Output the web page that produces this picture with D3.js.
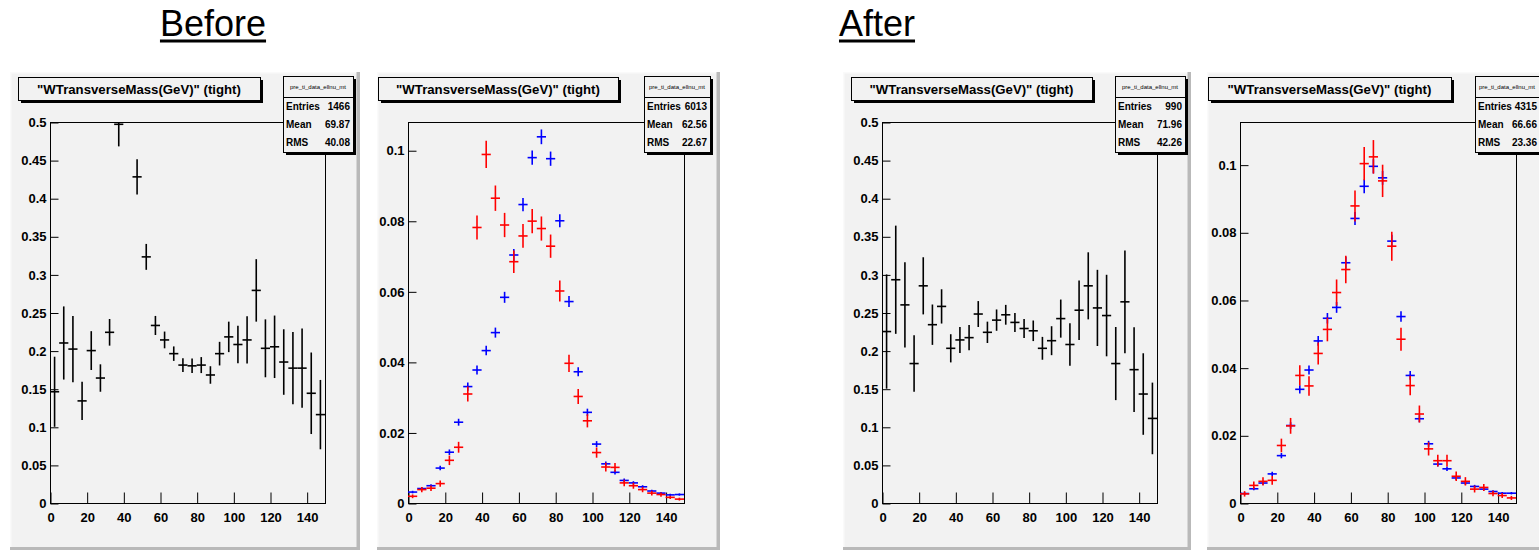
<!DOCTYPE html>
<html>
<head>
<meta charset="utf-8">
<script src="https://cdn.jsdelivr.net/npm/d3@7"></script>
<style>
  html, body { margin: 0; padding: 0; background: #ffffff; }
  svg { display: block; font-family: "Liberation Sans", Arial, sans-serif; }
  .tick text { font-weight: bold; font-size: 13px; font-family: "Liberation Sans", Arial, sans-serif; fill: #000; }
</style>
</head>
<body>
<svg id="chart" width="1539" height="553"></svg>
<script>
// Transverse-mass distributions, 30 bins of 5 GeV from 0 to 150 GeV
const binCenters = [2.5, 7.5, 12.5, 17.5, 22.5, 27.5, 32.5, 37.5, 42.5, 47.5,
  52.5, 57.5, 62.5, 67.5, 72.5, 77.5, 82.5, 87.5, 92.5, 97.5,
  102.5, 107.5, 112.5, 117.5, 122.5, 127.5, 132.5, 137.5, 142.5, 147.5];
const binWidth = 5;

// "Before" — ratio histogram (black)
const beforeRatio = [0.146, 0.210, 0.202, 0.134, 0.200, 0.164, 0.224, 0.497, 0.560, 0.428,
  0.323, 0.233, 0.214, 0.196, 0.181, 0.180, 0.181, 0.168, 0.196, 0.218,
  0.208, 0.214, 0.279, 0.203, 0.205, 0.185, 0.177, 0.177, 0.144, 0.116];
const beforeRatioErr = [0.046, 0.048, 0.0435, 0.025, 0.0255, 0.018, 0.0175, 0.029, 0.030, 0.023,
  0.017, 0.0125, 0.011, 0.0095, 0.009, 0.0095, 0.0105, 0.0115, 0.0155, 0.020,
  0.0245, 0.031, 0.041, 0.038, 0.041, 0.043, 0.0475, 0.052, 0.0535, 0.0455];

// "Before" — normalised shapes (blue and red)
const beforeBlue = [0.0031, 0.0041, 0.0049, 0.0099, 0.0144, 0.0229, 0.0330, 0.0377, 0.0432, 0.0483,
  0.0583, 0.0703, 0.0846, 0.0979, 0.1038, 0.0976, 0.0800, 0.0571, 0.0372, 0.0257,
  0.0167, 0.0111, 0.0087, 0.0064, 0.0057, 0.0046, 0.0034, 0.0028, 0.0023, 0.0024];
const beforeBlueErr = [0.00036, 0.00041, 0.00045, 0.00064, 0.00078, 0.00098, 0.00118, 0.00126, 0.00135, 0.00142,
  0.00156, 0.00172, 0.00188, 0.00203, 0.00209, 0.00202, 0.00183, 0.00155, 0.00125, 0.00104,
  0.00084, 0.00068, 0.0006, 0.00052, 0.00049, 0.00044, 0.00038, 0.00034, 0.00031, 0.00032];
const beforeRed = [0.0019, 0.0038, 0.0042, 0.0055, 0.0121, 0.0158, 0.0309, 0.0781, 0.0988, 0.0864,
  0.0788, 0.0684, 0.0757, 0.0799, 0.0778, 0.0728, 0.0601, 0.0396, 0.0302, 0.0233,
  0.0143, 0.0102, 0.0101, 0.0057, 0.0049, 0.0038, 0.0028, 0.0024, 0.0016, 0.0011];
const beforeRedErr = [0.00053, 0.00075, 0.00079, 0.00091, 0.00135, 0.00154, 0.00215, 0.00342, 0.00385, 0.0036,
  0.00344, 0.0032, 0.00337, 0.00346, 0.00342, 0.0033, 0.003, 0.00244, 0.00213, 0.00187,
  0.00146, 0.00124, 0.00123, 0.00092, 0.00086, 0.00075, 0.00065, 0.0006, 0.00049, 0.00041];

// "After" — ratio histogram (black)
const afterRatio = [0.225, 0.293, 0.260, 0.183, 0.285, 0.234, 0.258, 0.203, 0.214, 0.217,
  0.248, 0.224, 0.240, 0.247, 0.237, 0.229, 0.226, 0.203, 0.213, 0.242,
  0.208, 0.253, 0.285, 0.256, 0.246, 0.183, 0.264, 0.175, 0.143, 0.111];
const afterRatioErr = [0.075, 0.071, 0.056, 0.037, 0.0375, 0.0265, 0.0225, 0.0185, 0.017, 0.0165,
  0.017, 0.014, 0.014, 0.013, 0.0125, 0.0125, 0.0135, 0.015, 0.019, 0.025,
  0.028, 0.039, 0.044, 0.050, 0.0535, 0.048, 0.0675, 0.0555, 0.0535, 0.047];

// "After" — normalised shapes (blue and red)
const afterBlue = [0.0028, 0.0042, 0.0059, 0.0086, 0.0140, 0.0229, 0.0336, 0.0393, 0.0479, 0.0546,
  0.0578, 0.0710, 0.0841, 0.0936, 0.0995, 0.0961, 0.0774, 0.0551, 0.0377, 0.0249,
  0.0175, 0.0115, 0.0101, 0.0074, 0.0059, 0.0049, 0.0041, 0.0034, 0.0029, 0.0029];
const afterBlueErr = [0.00035, 0.00043, 0.00051, 0.00062, 0.00078, 0.001, 0.00122, 0.00132, 0.00145, 0.00155,
  0.0016, 0.00177, 0.00192, 0.00203, 0.00209, 0.00206, 0.00185, 0.00156, 0.00129, 0.00105,
  0.00088, 0.00071, 0.00067, 0.00057, 0.00051, 0.00046, 0.00042, 0.00039, 0.00036, 0.00036];
const afterRed = [0.0027, 0.0052, 0.0064, 0.0067, 0.0170, 0.0228, 0.0377, 0.0346, 0.0442, 0.0513,
  0.0622, 0.0690, 0.0878, 0.1003, 0.1023, 0.0952, 0.0759, 0.0484, 0.0347, 0.0263,
  0.0160, 0.0125, 0.0125, 0.0079, 0.0064, 0.0041, 0.0046, 0.0028, 0.0022, 0.0015];
const afterRedErr = [0.0008, 0.00112, 0.00124, 0.00127, 0.00202, 0.00234, 0.00301, 0.00288, 0.00326, 0.00351,
  0.00386, 0.00407, 0.00459, 0.00491, 0.00496, 0.00478, 0.00427, 0.00341, 0.00289, 0.00251,
  0.00196, 0.00173, 0.00173, 0.00138, 0.00124, 0.00099, 0.00105, 0.00082, 0.00073, 0.0006];

// Statistics boxes: [entries, mean, rms]
const statsBeforeRatio = [1466, "69.87", "40.08"];
const statsBeforeShape = [6013, "62.56", "22.67"];
const statsAfterRatio = [990, "71.96", "42.26"];
const statsAfterShape = [4315, "66.66", "23.36"];
const statsHistName = "pre_ti_data_ellnu_mt";
const statsLabels = ["Entries", "Mean", "RMS"];

// Axis ticks
const xMajorTicks = [0, 20, 40, 60, 80, 100, 120, 140];
const ratioMajorTicks = [0, 0.05, 0.1, 0.15, 0.2, 0.25, 0.3, 0.35, 0.4, 0.45, 0.5];
const shapeMajorTicks = [0, 0.02, 0.04, 0.06, 0.08, 0.1];
const xMinorStep = 5;
const ratioMinorStep = 0.01;
const shapeMinorStep = 0.005;

const plotTitle = "\"WTransverseMass(GeV)\" (tight)";
const headings = ["Before", "After"];

// ---- layout -------------------------------------------------------------
const W = 1539;
const fmtY = d => d === 0 ? "0" : String(+d.toFixed(2));
const panels = [
  { pad: [10, 72, 360, 550], title: [18, 77, 260, 100], plot: [50, 122, 325, 503], box: [283, 76, 353, 152],
    yMax: 0.5, yTicks: ratioMajorTicks, yMinor: ratioMinorStep,
    stats: statsBeforeRatio, series: [{ v: beforeRatio, e: beforeRatioErr, c: "#000000" }] },
  { pad: [377, 72, 720, 550], title: [378, 77, 618, 100], plot: [408, 122, 684, 503], box: [644, 76, 710, 152],
    yMax: 0.108, yTicks: shapeMajorTicks, yMinor: shapeMinorStep,
    stats: statsBeforeShape, series: [{ v: beforeBlue, e: beforeBlueErr, c: "#0000ff" }, { v: beforeRed, e: beforeRedErr, c: "#ff0000" }] },
  { pad: [843, 72, 1191, 550], title: [851, 77, 1092, 100], plot: [882, 122, 1157, 503], box: [1115, 76, 1185, 152],
    yMax: 0.5, yTicks: ratioMajorTicks, yMinor: ratioMinorStep,
    stats: statsAfterRatio, series: [{ v: afterRatio, e: afterRatioErr, c: "#000000" }] },
  { pad: [1207, 72, 1560, 550], title: [1208, 77, 1451, 100], plot: [1240, 122, 1516, 503], box: [1475, 76, 1545, 152],
    yMax: 0.1126, yTicks: shapeMajorTicks, yMinor: shapeMinorStep,
    stats: statsAfterShape, series: [{ v: afterBlue, e: afterBlueErr, c: "#0000ff" }, { v: afterRed, e: afterRedErr, c: "#ff0000" }] }
];

const padFill = "#f2f2f2";
const svg = d3.select("#chart");

// Headings with underline
[[headings[0], 213], [headings[1], 877]].forEach(([txt, cx]) => {
  const t = svg.append("text").attr("x", cx).attr("y", 36).attr("text-anchor", "middle")
    .attr("font-size", 36).attr("fill", "#000").text(txt);
  const w = t.node().getComputedTextLength();
  svg.append("rect").attr("x", cx - w / 2).attr("y", 39.5).attr("width", w).attr("height", 3).attr("fill", "#000");
});

function drawBox(g, x1, y1, x2, y2) {
  g.append("rect").attr("x", x1 + 3).attr("y", y1 + 3).attr("width", x2 - x1).attr("height", y2 - y1).attr("fill", "#000");
  g.append("rect").attr("x", x1 + 0.5).attr("y", y1 + 0.5).attr("width", x2 - x1).attr("height", y2 - y1)
    .attr("fill", padFill).attr("stroke", "#000").attr("stroke-width", 1);
}

panels.forEach((p, i) => {
  const g = svg.append("g");
  const [px1, py1, px2, py2] = p.pad;
  // pad with bevelled border
  g.append("rect").attr("x", px1).attr("y", py1).attr("width", px2 - px1).attr("height", py2 - py1).attr("fill", padFill);
  g.append("rect").attr("x", px1).attr("y", py1).attr("width", px2 - px1).attr("height", 1.5).attr("fill", "#fafafa");
  g.append("rect").attr("x", px1).attr("y", py1).attr("width", 1.5).attr("height", py2 - py1).attr("fill", "#fafafa");
  g.append("rect").attr("x", px2 - 3.5).attr("y", py1).attr("width", 3.5).attr("height", py2 - py1).attr("fill", "#b9b9b9");
  g.append("rect").attr("x", px1).attr("y", py2 - 3).attr("width", px2 - px1).attr("height", 3).attr("fill", "#b9b9b9");

  const [x1, y1, x2, y2] = p.plot;
  const x = d3.scaleLinear().domain([0, 150]).range([x1, x2]);
  const y = d3.scaleLinear().domain([0, p.yMax]).range([y2, y1]);

  // frame
  g.append("rect").attr("x", x1 + 0.5).attr("y", y1 + 0.5).attr("width", x2 - x1).attr("height", y2 - y1)
    .attr("fill", "none").attr("stroke", "#000").attr("stroke-width", 1);

  // y axis: ticks point into the frame
  const yMinorVals = d3.range(0, p.yMax + 1e-9, p.yMinor);
  const yAx = g.append("g").attr("transform", `translate(${x1 + 0.5},0.5)`);
  yAx.call(d3.axisLeft(y).tickValues(yMinorVals).tickSize(-4).tickSizeOuter(0).tickFormat(""));
  yAx.call(d3.axisLeft(y).tickValues(p.yTicks).tickSize(-8).tickSizeOuter(0).tickPadding(4).tickFormat(fmtY));
  yAx.selectAll(".domain").remove();

  const xAx = g.append("g").attr("transform", `translate(0.5,${y2 + 0.5})`);
  xAx.call(d3.axisBottom(x).tickValues(d3.range(0, 150 + 1e-9, xMinorStep)).tickSize(-6).tickSizeOuter(0).tickFormat(""));
  xAx.call(d3.axisBottom(x).tickValues(xMajorTicks).tickSize(-11).tickSizeOuter(0).tickPadding(9).tickFormat(d3.format("d")));
  xAx.selectAll(".domain").remove();

  [yAx, xAx].forEach(a => a.attr("font-weight", "bold").attr("font-size", 13).attr("font-family", "'Liberation Sans', Arial, sans-serif"));
  g.selectAll(".tick line").attr("stroke", "#000").attr("stroke-width", 1);

  // data points with error bars, clipped to the frame
  const clipId = "clip" + i;
  svg.append("clipPath").attr("id", clipId).append("rect").attr("x", x1).attr("y", y1).attr("width", x2 - x1 + 1).attr("height", y2 - y1 + 1);
  const dg = g.append("g").attr("clip-path", `url(#${clipId})`);
  p.series.forEach(s => {
    const pts = binCenters.map((c, k) => ({ c, v: s.v[k], e: s.e[k] }));
    const sg = dg.append("g").attr("stroke", s.c).attr("stroke-width", 1.6);
    sg.selectAll("line.h").data(pts).enter().append("line").attr("class", "h")
      .attr("x1", d => x(d.c - binWidth / 2)).attr("x2", d => x(d.c + binWidth / 2))
      .attr("y1", d => y(d.v)).attr("y2", d => y(d.v));
    sg.selectAll("line.v").data(pts).enter().append("line").attr("class", "v")
      .attr("x1", d => x(d.c)).attr("x2", d => x(d.c))
      .attr("y1", d => y(d.v - d.e)).attr("y2", d => y(d.v + d.e));
  });

  // title box
  const [tx1, ty1, tx2, ty2] = p.title;
  drawBox(g, tx1, ty1, tx2, ty2);
  g.append("text").attr("x", (tx1 + tx2) / 2).attr("y", (ty1 + ty2) / 2 + 5).attr("text-anchor", "middle")
    .attr("font-size", 13.2).attr("font-weight", "bold").text(plotTitle);

  // statistics box
  const [sx1, sy1, sx2, sy2] = p.box;
  drawBox(g, sx1, sy1, sx2, sy2);
  const headY = sy1 + 21;
  g.append("line").attr("x1", sx1).attr("x2", sx2).attr("y1", headY + 0.5).attr("y2", headY + 0.5).attr("stroke", "#000");
  g.append("text").attr("x", (sx1 + Math.min(sx2, W)) / 2).attr("y", sy1 + 13).attr("text-anchor", "middle")
    .attr("font-size", 6).text(statsHistName);
  const rowH = (sy2 - headY) / 3;
  const valX = Math.min(sx2 - 3, W - 2);
  statsLabels.forEach((lab, k) => {
    const cy = headY + rowH * (k + 0.5) + 3.5;
    g.append("text").attr("x", sx1 + 3).attr("y", cy).attr("font-size", 10).attr("font-weight", "bold").text(lab);
    g.append("text").attr("x", valX).attr("y", cy).attr("text-anchor", "end").attr("font-size", 10)
      .attr("font-weight", "bold").text(p.stats[k]);
  });
});
</script>
</body>
</html>
